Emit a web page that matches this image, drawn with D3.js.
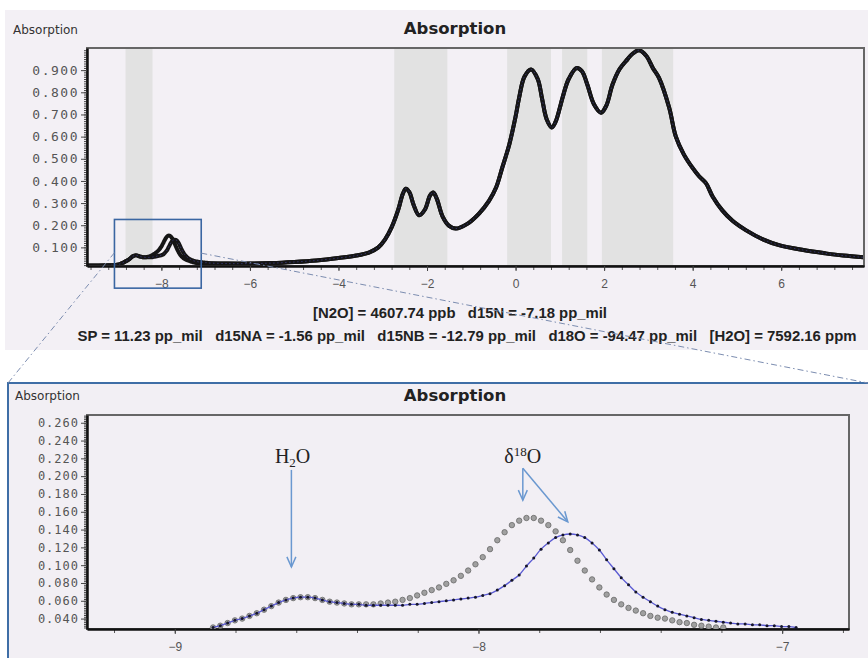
<!DOCTYPE html>
<html>
<head>
<meta charset="utf-8">
<script src="https://cdn.jsdelivr.net/npm/d3@7"></script>
<style>
  html, body { margin: 0; padding: 0; background: #ffffff; }
  svg { display: block; }
  .tick text { fill: #555; }
</style>
</head>
<body>
<svg id="chart" width="868" height="658"></svg>
<script>
// ---------- spectrum data (absorption vs. relative wavenumber) ----------
// full-range spectrum, left of the zoomed window
const spectrumLeftX = [-9.68, -9.45, -9.2, -9.0, -8.92];
const spectrumLeftY = [0.018, 0.018, 0.019, 0.022, 0.026];

// full-range spectrum, right of the zoomed window
const spectrumRightX = [-7.0, -6.5, -6.0, -5.5, -5.0, -4.5, -4.0, -3.6, -3.3, -3.1, -2.95, -2.8, -2.65, -2.55, -2.48, -2.4, -2.3, -2.18, -2.05, -1.93, -1.86, -1.78, -1.65, -1.5, -1.35, -1.1, -0.82, -0.6, -0.44, -0.3, -0.14, 0.0, 0.08, 0.2, 0.35, 0.5, 0.6, 0.7, 0.82, 0.9, 1.0, 1.06, 1.2, 1.38, 1.5, 1.62, 1.77, 1.93, 2.05, 2.19, 2.35, 2.49, 2.65, 2.79, 2.95, 3.1, 3.24, 3.47, 3.62, 3.8, 3.99, 4.15, 4.3, 4.45, 4.67, 4.9, 5.2, 5.6, 5.95, 6.5, 7.0, 7.4, 7.86];
const spectrumRightY = [0.028, 0.027, 0.027, 0.029, 0.034, 0.041, 0.052, 0.063, 0.078, 0.100, 0.135, 0.19, 0.27, 0.34, 0.365, 0.35, 0.29, 0.245, 0.27, 0.335, 0.348, 0.32, 0.24, 0.197, 0.185, 0.205, 0.254, 0.31, 0.37, 0.46, 0.566, 0.69, 0.775, 0.87, 0.903, 0.86, 0.77, 0.68, 0.641, 0.665, 0.73, 0.775, 0.86, 0.91, 0.895, 0.835, 0.746, 0.708, 0.74, 0.835, 0.905, 0.94, 0.975, 0.99, 0.965, 0.91, 0.865, 0.73, 0.60, 0.52, 0.461, 0.42, 0.39, 0.33, 0.267, 0.22, 0.178, 0.135, 0.11, 0.088, 0.073, 0.063, 0.055];

// sample grid inside the zoomed window
const detailX = [-8.874, -8.850, -8.826, -8.802, -8.778, -8.754, -8.730, -8.706, -8.682, -8.658, -8.634, -8.610, -8.586, -8.562, -8.538, -8.514, -8.490, -8.466, -8.442, -8.418, -8.394, -8.370, -8.346, -8.322, -8.298, -8.274, -8.250, -8.226, -8.202, -8.178, -8.154, -8.130, -8.106, -8.082, -8.058, -8.034, -8.010, -7.986, -7.962, -7.938, -7.914, -7.890, -7.866, -7.842, -7.818, -7.794, -7.770, -7.746, -7.722, -7.698, -7.674, -7.650, -7.626, -7.602, -7.578, -7.554, -7.530, -7.506, -7.482, -7.458, -7.434, -7.410, -7.386, -7.362, -7.338, -7.314, -7.290, -7.266, -7.242, -7.218, -7.194, -7.170, -7.146, -7.122, -7.098, -7.074, -7.050, -7.026, -7.002, -6.978, -6.954];

// measured absorption (grey circles), first 71 grid points
const measuredY = [0.030, 0.032, 0.035, 0.038, 0.040, 0.043, 0.046, 0.050, 0.054, 0.058, 0.061, 0.063, 0.064, 0.064, 0.063, 0.061, 0.059, 0.058, 0.057, 0.056, 0.056, 0.056, 0.056, 0.057, 0.058, 0.059, 0.061, 0.063, 0.066, 0.069, 0.072, 0.075, 0.079, 0.083, 0.088, 0.094, 0.101, 0.109, 0.118, 0.128, 0.137, 0.145, 0.150, 0.153, 0.153, 0.150, 0.145, 0.138, 0.128, 0.117, 0.105, 0.094, 0.084, 0.075, 0.067, 0.061, 0.056, 0.052, 0.049, 0.046, 0.043, 0.041, 0.040, 0.038, 0.036, 0.035, 0.033, 0.032, 0.031, 0.030, 0.030];

// fitted absorption (blue line with dark dots), all grid points
const fitY = [0.030, 0.032, 0.035, 0.038, 0.040, 0.043, 0.046, 0.050, 0.054, 0.058, 0.061, 0.063, 0.064, 0.064, 0.063, 0.061, 0.059, 0.058, 0.057, 0.056, 0.056, 0.055, 0.055, 0.055, 0.055, 0.055, 0.055, 0.056, 0.056, 0.057, 0.058, 0.059, 0.060, 0.061, 0.062, 0.063, 0.064, 0.066, 0.068, 0.072, 0.077, 0.083, 0.089, 0.099, 0.108, 0.118, 0.125, 0.131, 0.134, 0.135, 0.134, 0.131, 0.125, 0.117, 0.106, 0.096, 0.086, 0.078, 0.070, 0.064, 0.059, 0.054, 0.050, 0.047, 0.045, 0.043, 0.041, 0.039, 0.038, 0.037, 0.036, 0.035, 0.034, 0.034, 0.033, 0.033, 0.032, 0.032, 0.031, 0.031, 0.030];

// fit windows shaded behind the spectrum
const bandStart = [-8.81, -2.74, -0.19, 1.05, 1.95];
const bandEnd   = [-8.20, -1.54,  0.80, 1.62, 3.56];

// axis ticks
const topYTicks  = [0.1, 0.2, 0.3, 0.4, 0.5, 0.6, 0.7, 0.8, 0.9];
const topXTicks  = [-8, -6, -4, -2, 0, 2, 4, 6];
const zoomYTicks = [0.04, 0.06, 0.08, 0.10, 0.12, 0.14, 0.16, 0.18, 0.20, 0.22, 0.24, 0.26];
const zoomXTicks = [-9, -8, -7];

// concentration / isotope readout
const infoLine1 = "[N2O] = 4607.74 ppb   d15N = -7.18 pp_mil";
const infoLine2 = "SP = 11.23 pp_mil   d15NA = -1.56 pp_mil   d15NB = -12.79 pp_mil   d18O = -94.47 pp_mil   [H2O] = 7592.16 ppm";

// zoom window marked on the full spectrum (data units of the upper plot)
const zoomWindowX = [-9.06, -7.10];
const zoomWindowY = [-0.084, 0.226];
const leaderStartX = [-9.06, -7.10];
const leaderStartY = [0.076, 0.074];

// peak annotations in the zoomed plot (data units)
const peakLabels = ["H2O", "d18O"];
const labelX = [-8.612, -7.854];
const labelY = [0.2143, 0.2143];
const arrowFromX = [-8.616, -7.854, -7.854];
const arrowFromY = [0.207, 0.209, 0.209];
const arrowToX   = [-8.616, -7.854, -7.706];
const arrowToY   = [0.098, 0.173, 0.1487];

// ---------- layout ----------
const svg = d3.select("#chart");
const topBox  = { left: 87, right: 864, top: 48, bottom: 266 };
const zoomBox = { left: 87, right: 849, top: 415, bottom: 629 };
const panelFill = "#f3f0f5";

const xTop  = d3.scaleLinear().domain([-9.68, 7.87]).range([topBox.left, topBox.right]);
const yTop  = d3.scaleLinear().domain([0.016, 1.0]).range([topBox.bottom, topBox.top]);
const xZoom = d3.scaleLinear().domain([-9.289, -6.78]).range([zoomBox.left, zoomBox.right]);
const yZoom = d3.scaleLinear().domain([0.0283, 0.2687]).range([zoomBox.bottom, zoomBox.top]);

const defs = svg.append("defs");
function clip(id, b) {
  defs.append("clipPath").attr("id", id).append("rect")
    .attr("x", b.left).attr("y", b.top)
    .attr("width", b.right - b.left).attr("height", b.bottom - b.top);
}
clip("clipTop", topBox);
clip("clipZoom", zoomBox);

// panel backgrounds
svg.append("rect").attr("x", 5).attr("y", 10).attr("width", 863).attr("height", 340)
  .attr("fill", panelFill);
svg.append("rect").attr("x", 8).attr("y", 383).attr("width", 872).attr("height", 300)
  .attr("fill", "#f2eff4").attr("stroke", "#3f6ea6").attr("stroke-width", 2);

// ---------- helpers ----------
function title(txt, cx, y) {
  svg.append("text").attr("x", cx).attr("y", y).attr("text-anchor", "middle")
    .style("font-family", "'DejaVu Sans', sans-serif").style("font-weight", "bold")
    .style("font-size", "16.5px").attr("fill", "#222").text(txt);
}
function yLabel(txt, x, y) {
  svg.append("text").attr("x", x).attr("y", y)
    .style("font-family", "'DejaVu Sans', sans-serif").style("font-size", "12px")
    .attr("fill", "#333").text(txt);
}

function drawAxes(b, xs, ys, yMajor, yMinor, xMajor, xMinor, yFontSize, ySpacing) {
  // frame (top and right edges)
  svg.append("rect").attr("x", b.left).attr("y", b.top)
    .attr("width", b.right - b.left).attr("height", b.bottom - b.top)
    .attr("fill", "none").attr("stroke", "#666").attr("stroke-width", 2);

  // minor ticks
  const gyMin = svg.append("g").attr("transform", `translate(${b.left},0)`)
    .call(d3.axisLeft(ys).tickValues(yMinor).tickSize(3).tickFormat("").tickSizeOuter(0));
  gyMin.select(".domain").remove();
  gyMin.selectAll("line").attr("stroke", "#444");
  const gxMin = svg.append("g").attr("transform", `translate(0,${b.bottom})`)
    .call(d3.axisBottom(xs).tickValues(xMinor).tickSize(4).tickFormat("").tickSizeOuter(0));
  gxMin.select(".domain").remove();
  gxMin.selectAll("line").attr("stroke", "#555");

  // major ticks and labels
  const gy = svg.append("g").attr("transform", `translate(${b.left},0)`)
    .call(d3.axisLeft(ys).tickValues(yMajor).tickSize(6).tickPadding(2)
      .tickFormat(d3.format(".3f")).tickSizeOuter(0));
  gy.select(".domain").attr("stroke", "#111").attr("stroke-width", 2.5);
  gy.selectAll("line").attr("stroke", "#444");
  gy.selectAll("text")
    .style("font-family", "'DejaVu Sans Mono', monospace")
    .style("font-size", yFontSize + "px").style("letter-spacing", ySpacing + "px");

  const gx = svg.append("g").attr("transform", `translate(0,${b.bottom})`)
    .call(d3.axisBottom(xs).tickValues(xMajor).tickSize(5).tickPadding(8)
      .tickFormat(d3.format("d")).tickSizeOuter(0));
  gx.select(".domain").attr("stroke", "#111").attr("stroke-width", 2.5);
  gx.selectAll("line").attr("stroke", "#444");
  gx.selectAll("text")
    .style("font-family", "'Liberation Sans', Arial, sans-serif").style("font-size", "12px");
}

// ---------- upper plot: full spectrum ----------
yLabel("Absorption", 13, 34);
title("Absorption", 455, 34);

svg.append("g").selectAll("rect").data(d3.zip(bandStart, bandEnd)).join("rect")
  .attr("x", d => xTop(d[0])).attr("width", d => xTop(d[1]) - xTop(d[0]))
  .attr("y", topBox.top).attr("height", topBox.bottom - topBox.top)
  .attr("fill", "#e2e2e2");

const leftPts  = d3.zip(spectrumLeftX, spectrumLeftY);
const rightPts = d3.zip(spectrumRightX, spectrumRightY);
const measPts  = d3.zip(detailX.slice(0, measuredY.length), measuredY);
const fitPts   = d3.zip(detailX, fitY);

const lineTop = d3.line().x(d => xTop(d[0])).y(d => yTop(d[1]))
  .curve(d3.curveCatmullRom.alpha(0.5));
const gTopCurves = svg.append("g").attr("clip-path", "url(#clipTop)");
gTopCurves.append("path").datum(leftPts.concat(measPts, rightPts))
  .attr("d", lineTop).attr("fill", "none").attr("stroke", "#151515")
  .attr("stroke-width", 4).attr("stroke-linejoin", "round");
gTopCurves.append("path").datum(leftPts.concat(fitPts, rightPts.filter(d => d[0] > -6.95)))
  .attr("d", lineTop).attr("fill", "none").attr("stroke", "#151515")
  .attr("stroke-width", 4).attr("stroke-linejoin", "round");
gTopCurves.append("path").datum(leftPts.concat(fitPts, rightPts.filter(d => d[0] > -6.95)))
  .attr("d", lineTop).attr("fill", "none").attr("stroke", "#4a4aa8")
  .attr("stroke-width", 0.8).attr("stroke-dasharray", "1.5,2.5").attr("opacity", 0.7);

drawAxes(topBox, xTop, yTop, topYTicks,
  d3.range(2, 100).map(i => i / 100),
  topXTicks, d3.range(-24, 20).map(i => i * 0.4).filter(v => v > -9.68 && v < 7.87),
  13, 1.5);

// readout lines
svg.append("text").attr("x", 460).attr("y", 318).attr("text-anchor", "middle")
  .attr("textLength", 294).attr("lengthAdjust", "spacingAndGlyphs")
  .style("white-space", "pre")
  .style("font-family", "'Liberation Sans Narrow', 'Arial Narrow', 'Liberation Sans', sans-serif")
  .style("font-weight", "bold").style("font-size", "14px").attr("fill", "#222").text(infoLine1);
svg.append("text").attr("x", 467).attr("y", 341).attr("text-anchor", "middle")
  .attr("textLength", 779).attr("lengthAdjust", "spacingAndGlyphs")
  .style("white-space", "pre")
  .style("font-family", "'Liberation Sans Narrow', 'Arial Narrow', 'Liberation Sans', sans-serif")
  .style("font-weight", "bold").style("font-size", "14px").attr("fill", "#222").text(infoLine2);

// ---------- lower plot: zoomed window ----------
yLabel("Absorption", 15, 400);
title("Absorption", 455, 401);

drawAxes(zoomBox, xZoom, yZoom, zoomYTicks,
  d3.range(15, 135).map(i => i * 0.002),
  zoomXTicks, d3.range(-46, -33).map(i => i * 0.2),
  12, 1);

const lineZoom = d3.line().x(d => xZoom(d[0])).y(d => yZoom(d[1]))
  .curve(d3.curveCatmullRom.alpha(0.5));
const gZoom = svg.append("g").attr("clip-path", "url(#clipZoom)");

gZoom.append("g").selectAll("circle").data(measPts).join("circle")
  .attr("cx", d => xZoom(d[0])).attr("cy", d => yZoom(d[1])).attr("r", 2.7)
  .attr("fill", "#a0a0a0").attr("stroke", "#707070").attr("stroke-width", 0.9);
gZoom.append("path").datum(fitPts).attr("d", lineZoom)
  .attr("fill", "none").attr("stroke", "#5a5ad2").attr("stroke-width", 1.3);
gZoom.append("g").selectAll("circle").data(fitPts).join("circle")
  .attr("cx", d => xZoom(d[0])).attr("cy", d => yZoom(d[1])).attr("r", 1.5)
  .attr("fill", "#15152a");

// ---------- zoom window marker and leader lines ----------
svg.append("rect")
  .attr("x", xTop(zoomWindowX[0])).attr("y", yTop(zoomWindowY[1]))
  .attr("width", xTop(zoomWindowX[1]) - xTop(zoomWindowX[0]))
  .attr("height", yTop(zoomWindowY[0]) - yTop(zoomWindowY[1]))
  .attr("fill", "none").attr("stroke", "#3a66a2").attr("stroke-width", 1.6);

const panelCorners = [[8, 383], [868, 383]];
svg.append("g").selectAll("line").data([0, 1]).join("line")
  .attr("x1", i => xTop(leaderStartX[i])).attr("y1", i => yTop(leaderStartY[i]))
  .attr("x2", i => panelCorners[i][0]).attr("y2", i => panelCorners[i][1])
  .attr("stroke", "#7c8db0").attr("stroke-width", 1)
  .attr("stroke-dasharray", "6,3,1.5,3");

// ---------- peak annotations ----------
const arrowColor = "#6a98d0";
const gAnn = svg.append("g");
d3.range(arrowFromX.length).forEach(i => {
  const x1 = xZoom(arrowFromX[i]), y1 = yZoom(arrowFromY[i]);
  const x2 = xZoom(arrowToX[i]),   y2 = yZoom(arrowToY[i]);
  gAnn.append("line").attr("x1", x1).attr("y1", y1).attr("x2", x2).attr("y2", y2)
    .attr("stroke", arrowColor).attr("stroke-width", 1.5);
  const a = Math.atan2(y2 - y1, x2 - x1), L = 11, s = 0.42;
  gAnn.append("path")
    .attr("d", `M${x2 - L * Math.cos(a - s)},${y2 - L * Math.sin(a - s)}L${x2},${y2}L${x2 - L * Math.cos(a + s)},${y2 - L * Math.sin(a + s)}`)
    .attr("fill", "none").attr("stroke", arrowColor).attr("stroke-width", 1.5);
});

const serif = "'Liberation Serif', 'Times New Roman', serif";
const tH = gAnn.append("text").attr("x", xZoom(labelX[0])).attr("y", yZoom(labelY[0]))
  .attr("text-anchor", "middle").style("font-family", serif).style("font-size", "20px")
  .attr("fill", "#222");
tH.append("tspan").text("H");
tH.append("tspan").attr("dy", 4).style("font-size", "13px").text("2");
tH.append("tspan").attr("dy", -4).text("O");

const tO = gAnn.append("text").attr("x", xZoom(labelX[1])).attr("y", yZoom(labelY[1]))
  .attr("text-anchor", "middle").style("font-family", serif).style("font-size", "20px")
  .attr("fill", "#222");
tO.append("tspan").text("δ");
tO.append("tspan").attr("dy", -7).style("font-size", "13px").text("18");
tO.append("tspan").attr("dy", 7).text("O");
</script>
</body>
</html>
